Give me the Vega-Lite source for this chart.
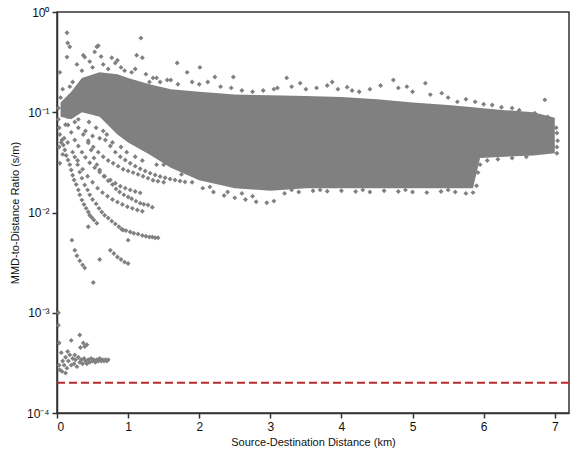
{
  "$schema": "https://vega.github.io/schema/vega-lite/v6.json",
  "width": 512,
  "height": 401,
  "autosize": "none",
  "padding": {"left": 57, "top": 12, "right": 9, "bottom": 39},
  "background": "white",
  "view": {"stroke": "#333333", "strokeWidth": 1.5},
  "config": {"axis": {"domainColor": "#333333", "domainWidth": 1.5, "tickColor": "#333333", "tickWidth": 1.5, "grid": false}},
  "data": {"values": [
      {"s": "band", "x": 0.05, "y": 0.125, "lo": 0.09},
      {"s": "band", "x": 0.2, "y": 0.16, "lo": 0.085},
      {"s": "band", "x": 0.35, "y": 0.22, "lo": 0.1},
      {"s": "band", "x": 0.6, "y": 0.25, "lo": 0.09},
      {"s": "band", "x": 0.85, "y": 0.24, "lo": 0.06},
      {"s": "band", "x": 1.0, "y": 0.22, "lo": 0.05},
      {"s": "band", "x": 1.3, "y": 0.19, "lo": 0.038},
      {"s": "band", "x": 1.6, "y": 0.17, "lo": 0.028},
      {"s": "band", "x": 2.0, "y": 0.16, "lo": 0.021},
      {"s": "band", "x": 2.5, "y": 0.15, "lo": 0.0175},
      {"s": "band", "x": 3.0, "y": 0.148, "lo": 0.0165},
      {"s": "band", "x": 3.5, "y": 0.145, "lo": 0.0175},
      {"s": "band", "x": 4.0, "y": 0.142, "lo": 0.0175},
      {"s": "band", "x": 4.5, "y": 0.135, "lo": 0.0175},
      {"s": "band", "x": 5.0, "y": 0.125, "lo": 0.0175},
      {"s": "band", "x": 5.5, "y": 0.118, "lo": 0.0175},
      {"s": "band", "x": 5.85, "y": 0.112, "lo": 0.0175},
      {"s": "band", "x": 5.95, "y": 0.11, "lo": 0.035},
      {"s": "band", "x": 6.3, "y": 0.105, "lo": 0.036},
      {"s": "band", "x": 6.7, "y": 0.1, "lo": 0.037},
      {"s": "band", "x": 7.0, "y": 0.088, "lo": 0.039},
      {"s":"p","x":0.14,"y":0.62},{"s":"p","x":0.15,"y":0.49},{"s":"p","x":0.18,"y":0.45},{"s":"p","x":0.14,"y":0.355},{"s":"p","x":0.56,"y":0.45},{"s":"p","x":0.53,"y":0.40},{"s":"p","x":0.39,"y":0.355},{"s":"p","x":0.35,"y":0.26},{"s":"p","x":0.37,"y":0.37},{"s":"p","x":0.58,"y":0.46},{"s":"p","x":0.46,"y":0.32},{"s":"p","x":0.77,"y":0.35},{"s":"p","x":0.82,"y":0.31},{"s":"p","x":1.12,"y":0.37},{"s":"p","x":1.18,"y":0.55},{"s":"p","x":1.2,"y":0.35},{"s":"p","x":1.05,"y":0.25},{"s":"p","x":1.69,"y":0.31},{"s":"p","x":1.83,"y":0.25},{"s":"p","x":2.01,"y":0.28},{"s":"p","x":2.22,"y":0.225},{"s":"p","x":2.48,"y":0.225},
      {"s":"p","x":0.28,"y":0.3},{"s":"p","x":0.5,"y":0.28},{"s":"p","x":0.65,"y":0.3},{"s":"p","x":0.72,"y":0.27},{"s":"p","x":0.9,"y":0.28},{"s":"p","x":0.95,"y":0.26},{"s":"p","x":1.1,"y":0.27},{"s":"p","x":1.25,"y":0.24},{"s":"p","x":1.35,"y":0.22},{"s":"p","x":1.45,"y":0.2},{"s":"p","x":1.55,"y":0.21},{"s":"p","x":0.62,"y":0.36},{"s":"p","x":0.85,"y":0.33},
      {"s":"p","x":1.3,"y":0.2},{"s":"p","x":1.4,"y":0.22},{"s":"p","x":1.6,"y":0.21},{"s":"p","x":1.7,"y":0.19},{"s":"p","x":1.9,"y":0.2},{"s":"p","x":2.0,"y":0.19},{"s":"p","x":2.12,"y":0.2},{"s":"p","x":2.3,"y":0.18},{"s":"p","x":2.45,"y":0.175},{"s":"p","x":2.6,"y":0.165},{"s":"p","x":2.75,"y":0.16},{"s":"p","x":2.9,"y":0.165},{"s":"p","x":3.05,"y":0.17},{"s":"p","x":3.1,"y":0.175},{"s":"p","x":3.23,"y":0.22},{"s":"p","x":3.3,"y":0.18},{"s":"p","x":3.42,"y":0.195},{"s":"p","x":3.5,"y":0.17},{"s":"p","x":3.65,"y":0.175},{"s":"p","x":3.8,"y":0.185},{"s":"p","x":3.87,"y":0.2},{"s":"p","x":3.95,"y":0.17},{"s":"p","x":4.08,"y":0.178},{"s":"p","x":4.15,"y":0.165},{"s":"p","x":4.25,"y":0.16},{"s":"p","x":4.4,"y":0.17},{"s":"p","x":4.55,"y":0.185},{"s":"p","x":4.73,"y":0.21},{"s":"p","x":4.8,"y":0.175},{"s":"p","x":4.92,"y":0.18},{"s":"p","x":5.0,"y":0.16},{"s":"p","x":5.18,"y":0.195},{"s":"p","x":5.25,"y":0.15},{"s":"p","x":5.41,"y":0.155},{"s":"p","x":5.5,"y":0.14},{"s":"p","x":5.63,"y":0.127},{"s":"p","x":5.75,"y":0.135},{"s":"p","x":5.88,"y":0.127},{"s":"p","x":6.0,"y":0.12},{"s":"p","x":6.12,"y":0.118},{"s":"p","x":6.25,"y":0.112},{"s":"p","x":6.4,"y":0.11},{"s":"p","x":6.5,"y":0.105},{"s":"p","x":6.58,"y":0.094},{"s":"p","x":6.72,"y":0.098},{"s":"p","x":6.86,"y":0.133},{"s":"p","x":6.9,"y":0.09},{"s":"p","x":6.96,"y":0.08},{"s":"p","x":7.02,"y":0.07},{"s":"p","x":7.03,"y":0.062},{"s":"p","x":7.04,"y":0.052},{"s":"p","x":7.03,"y":0.045},{"s":"p","x":7.03,"y":0.039},{"s":"p","x":6.89,"y":0.044},{"s":"p","x":6.8,"y":0.04},{"s":"p","x":6.6,"y":0.036},{"s":"p","x":6.4,"y":0.035},{"s":"p","x":6.2,"y":0.034},{"s":"p","x":6.05,"y":0.033},
      {"s":"p","x":1.5,"y":0.03},{"s":"p","x":1.75,"y":0.024},{"s":"p","x":1.9,"y":0.02},{"s":"p","x":2.05,"y":0.0175},{"s":"p","x":2.2,"y":0.016},{"s":"p","x":2.35,"y":0.0148},{"s":"p","x":2.5,"y":0.014},{"s":"p","x":2.65,"y":0.0135},{"s":"p","x":2.8,"y":0.0128},{"s":"p","x":2.95,"y":0.0125},{"s":"p","x":3.05,"y":0.013},{"s":"p","x":2.75,"y":0.0145},{"s":"p","x":2.6,"y":0.0155},{"s":"p","x":2.4,"y":0.016},{"s":"p","x":2.15,"y":0.018},{"s":"p","x":3.2,"y":0.0155},{"s":"p","x":3.4,"y":0.016},{"s":"p","x":3.6,"y":0.0165},{"s":"p","x":3.8,"y":0.0163},{"s":"p","x":4.0,"y":0.0165},{"s":"p","x":4.2,"y":0.0162},{"s":"p","x":4.4,"y":0.016},{"s":"p","x":4.6,"y":0.0165},{"s":"p","x":4.8,"y":0.0162},{"s":"p","x":5.0,"y":0.016},{"s":"p","x":5.2,"y":0.0158},{"s":"p","x":5.4,"y":0.0162},{"s":"p","x":5.6,"y":0.016},{"s":"p","x":5.75,"y":0.0155},{"s":"p","x":5.85,"y":0.0158},{"s":"p","x":3.3,"y":0.0168},{"s":"p","x":3.7,"y":0.0168},{"s":"p","x":4.3,"y":0.0168},{"s":"p","x":4.9,"y":0.0168},{"s":"p","x":5.5,"y":0.0168},{"s":"p","x":5.9,"y":0.0185},{"s":"p","x":5.92,"y":0.025},{"s":"p","x":5.95,"y":0.03},
      {"s":"p","x":0.02,"y":0.11},{"s":"p","x":0.02,"y":0.085},{"s":"p","x":0.03,"y":0.07},{"s":"p","x":0.04,"y":0.06},{"s":"p","x":0.03,"y":0.045},{"s":"p","x":0.05,"y":0.14},{"s":"p","x":0.08,"y":0.17},{"s":"p","x":0.04,"y":0.25},{"s":"p","x":0.04,"y":0.031},{"s":"p","x":0.08,"y":0.038},{"s":"p","x":0.1,"y":0.055},{"s":"p","x":0.12,"y":0.075},{"s":"p","x":0.18,"y":0.18},{"s":"p","x":0.22,"y":0.2},{"s":"p","x":0.25,"y":0.08},{"s":"p","x":0.06,"y":0.05},
      {"s":"p","x":0.07,"y":0.0529},{"s":"p","x":0.11,"y":0.042},{"s":"p","x":0.155,"y":0.0334},{"s":"p","x":0.2,"y":0.0265},{"s":"p","x":0.24,"y":0.0211},{"s":"p","x":0.3,"y":0.0168},{"s":"p","x":0.35,"y":0.0133},{"s":"p","x":0.41,"y":0.011},{"s":"p","x":0.46,"y":0.0094},{"s":"p","x":0.52,"y":0.0084},{"s":"p","x":0.56,"y":0.0078},{"s":"p","x":0.09,"y":0.047},{"s":"p","x":0.13,"y":0.037},{"s":"p","x":0.18,"y":0.03},{"s":"p","x":0.22,"y":0.0235},{"s":"p","x":0.27,"y":0.019},{"s":"p","x":0.32,"y":0.015},{"s":"p","x":0.38,"y":0.012},{"s":"p","x":0.44,"y":0.0101},{"s":"p","x":0.49,"y":0.0089},
      {"s":"p","x":0.25,"y":0.0358},{"s":"p","x":0.32,"y":0.0253},{"s":"p","x":0.39,"y":0.0188},{"s":"p","x":0.46,"y":0.015},{"s":"p","x":0.55,"y":0.0122},{"s":"p","x":0.63,"y":0.0101},{"s":"p","x":0.72,"y":0.0088},{"s":"p","x":0.82,"y":0.0077},{"s":"p","x":0.91,"y":0.0068},{"s":"p","x":1.03,"y":0.0064},{"s":"p","x":1.14,"y":0.0061},{"s":"p","x":1.25,"y":0.0058},{"s":"p","x":1.34,"y":0.0057},{"s":"p","x":1.42,"y":0.0056},{"s":"p","x":0.77,"y":0.0082},{"s":"p","x":0.87,"y":0.0072},{"s":"p","x":0.97,"y":0.0066},{"s":"p","x":1.08,"y":0.0062},{"s":"p","x":1.2,"y":0.0059},{"s":"p","x":1.3,"y":0.0057},{"s":"p","x":1.38,"y":0.0056},{"s":"p","x":0.59,"y":0.011},{"s":"p","x":0.67,"y":0.0094},{"s":"p","x":0.5,"y":0.0135},{"s":"p","x":0.43,"y":0.0168},{"s":"p","x":0.35,"y":0.022},{"s":"p","x":0.29,"y":0.03},
      {"s":"p","x":0.44,"y":0.0495},{"s":"p","x":0.52,"y":0.035},{"s":"p","x":0.6,"y":0.0265},{"s":"p","x":0.72,"y":0.0207},{"s":"p","x":0.83,"y":0.0172},{"s":"p","x":0.94,"y":0.015},{"s":"p","x":1.05,"y":0.0137},{"s":"p","x":1.17,"y":0.0124},{"s":"p","x":1.28,"y":0.0119},{"s":"p","x":1.34,"y":0.0113},{"s":"p","x":0.48,"y":0.042},{"s":"p","x":0.56,"y":0.03},{"s":"p","x":0.66,"y":0.023},{"s":"p","x":0.78,"y":0.019},{"s":"p","x":0.88,"y":0.016},{"s":"p","x":1.0,"y":0.0143},{"s":"p","x":1.11,"y":0.013},{"s":"p","x":1.22,"y":0.0121},
      {"s":"p","x":0.68,"y":0.0529},{"s":"p","x":0.82,"y":0.04},{"s":"p","x":0.96,"y":0.0334},{"s":"p","x":1.1,"y":0.029},{"s":"p","x":1.24,"y":0.0259},{"s":"p","x":1.38,"y":0.0237},{"s":"p","x":1.52,"y":0.0222},{"s":"p","x":1.66,"y":0.0211},{"s":"p","x":1.8,"y":0.0202},{"s":"p","x":0.75,"y":0.046},{"s":"p","x":0.89,"y":0.036},{"s":"p","x":1.03,"y":0.031},{"s":"p","x":1.17,"y":0.0273},{"s":"p","x":1.31,"y":0.0247},{"s":"p","x":1.45,"y":0.0229},{"s":"p","x":1.59,"y":0.0216},{"s":"p","x":1.73,"y":0.0206},
      {"s":"p","x":0.155,"y":0.0746},{"s":"p","x":0.25,"y":0.0529},{"s":"p","x":0.35,"y":0.04},{"s":"p","x":0.46,"y":0.0313},{"s":"p","x":0.6,"y":0.0253},{"s":"p","x":0.75,"y":0.0211},{"s":"p","x":0.89,"y":0.0183},{"s":"p","x":1.03,"y":0.0168},{"s":"p","x":1.17,"y":0.0157},{"s":"p","x":0.2,"y":0.063},{"s":"p","x":0.3,"y":0.046},{"s":"p","x":0.4,"y":0.0355},{"s":"p","x":0.53,"y":0.028},{"s":"p","x":0.67,"y":0.023},{"s":"p","x":0.82,"y":0.0196},{"s":"p","x":0.96,"y":0.0175},{"s":"p","x":1.1,"y":0.0162},
      {"s":"p","x":0.3,"y":0.07},{"s":"p","x":0.37,"y":0.06},{"s":"p","x":0.44,"y":0.052},{"s":"p","x":0.51,"y":0.045},{"s":"p","x":0.58,"y":0.04},{"s":"p","x":0.65,"y":0.036},{"s":"p","x":0.72,"y":0.033},{"s":"p","x":0.79,"y":0.031},{"s":"p","x":0.86,"y":0.029},{"s":"p","x":0.93,"y":0.027},{"s":"p","x":1.0,"y":0.026},{"s":"p","x":1.07,"y":0.025},{"s":"p","x":1.14,"y":0.024},{"s":"p","x":1.21,"y":0.023},{"s":"p","x":1.28,"y":0.022},{"s":"p","x":1.35,"y":0.021},{"s":"p","x":1.42,"y":0.0205},{"s":"p","x":1.5,"y":0.02},
      {"s":"p","x":0.15,"y":0.05},{"s":"p","x":0.22,"y":0.04},{"s":"p","x":0.29,"y":0.033},{"s":"p","x":0.36,"y":0.027},{"s":"p","x":0.43,"y":0.023},{"s":"p","x":0.5,"y":0.02},{"s":"p","x":0.57,"y":0.0175},{"s":"p","x":0.64,"y":0.0158},{"s":"p","x":0.71,"y":0.0145},{"s":"p","x":0.78,"y":0.0135},{"s":"p","x":0.85,"y":0.0127},{"s":"p","x":0.92,"y":0.012},{"s":"p","x":0.99,"y":0.0114},{"s":"p","x":1.06,"y":0.011},{"s":"p","x":1.13,"y":0.0106},{"s":"p","x":1.2,"y":0.0103},
      {"s":"p","x":0.15,"y":0.09},{"s":"p","x":0.3,"y":0.085},{"s":"p","x":0.45,"y":0.08},{"s":"p","x":0.55,"y":0.07},{"s":"p","x":0.65,"y":0.065},{"s":"p","x":0.4,"y":0.065},{"s":"p","x":0.5,"y":0.058},{"s":"p","x":0.6,"y":0.055},{"s":"p","x":0.7,"y":0.06},{"s":"p","x":0.78,"y":0.05},{"s":"p","x":0.9,"y":0.045},{"s":"p","x":0.98,"y":0.04},{"s":"p","x":1.1,"y":0.036},{"s":"p","x":1.2,"y":0.033},{"s":"p","x":1.4,"y":0.03},
      {"s":"p","x":0.21,"y":0.0053},{"s":"p","x":0.25,"y":0.0042},{"s":"p","x":0.28,"y":0.0037},{"s":"p","x":0.32,"y":0.0033},{"s":"p","x":0.36,"y":0.003},{"s":"p","x":0.39,"y":0.0028},{"s":"p","x":0.51,"y":0.002},{"s":"p","x":0.6,"y":0.0034},{"s":"p","x":0.93,"y":0.0067},{"s":"p","x":1.0,"y":0.0053},{"s":"p","x":0.44,"y":0.0072},{"s":"p","x":0.75,"y":0.0042},{"s":"p","x":0.8,"y":0.0039},{"s":"p","x":0.85,"y":0.0036},{"s":"p","x":0.9,"y":0.0034},{"s":"p","x":0.95,"y":0.0032},{"s":"p","x":1.0,"y":0.0031},{"s":"p","x":0.02,"y":0.001},{"s":"p","x":0.02,"y":0.00075},{"s":"p","x":0.03,"y":0.0005},
      {"s":"p","x":0.32,"y":0.0006},{"s":"p","x":0.37,"y":0.0005},{"s":"p","x":0.2,"y":0.00053},{"s":"p","x":0.42,"y":0.00048},{"s":"p","x":0.39,"y":0.00046},
      {"s":"p","x":0.06,"y":0.0004},{"s":"p","x":0.08,"y":0.00033},{"s":"p","x":0.1,"y":0.0003},{"s":"p","x":0.12,"y":0.00036},{"s":"p","x":0.14,"y":0.00028},{"s":"p","x":0.16,"y":0.00033},{"s":"p","x":0.18,"y":0.00038},{"s":"p","x":0.2,"y":0.0003},{"s":"p","x":0.22,"y":0.00035},{"s":"p","x":0.24,"y":0.00031},{"s":"p","x":0.26,"y":0.00034},{"s":"p","x":0.28,"y":0.00029},{"s":"p","x":0.3,"y":0.00036},{"s":"p","x":0.32,"y":0.00032},{"s":"p","x":0.34,"y":0.00034},{"s":"p","x":0.36,"y":0.00031},{"s":"p","x":0.38,"y":0.00035},{"s":"p","x":0.4,"y":0.00033},{"s":"p","x":0.42,"y":0.00031},{"s":"p","x":0.44,"y":0.00034},{"s":"p","x":0.46,"y":0.00032},{"s":"p","x":0.48,"y":0.00035},{"s":"p","x":0.5,"y":0.00033},{"s":"p","x":0.52,"y":0.00034},{"s":"p","x":0.54,"y":0.00032},{"s":"p","x":0.56,"y":0.00034},{"s":"p","x":0.58,"y":0.00033},{"s":"p","x":0.6,"y":0.00035},{"s":"p","x":0.62,"y":0.00033},{"s":"p","x":0.64,"y":0.00034},{"s":"p","x":0.66,"y":0.00033},{"s":"p","x":0.68,"y":0.00034},{"s":"p","x":0.7,"y":0.00033},{"s":"p","x":0.72,"y":0.00034},{"s":"p","x":0.04,"y":0.00027},{"s":"p","x":0.07,"y":0.00026},{"s":"p","x":0.12,"y":0.00025},{"s":"p","x":0.03,"y":0.0003},{"s":"p","x":0.15,"y":0.00041},{"s":"p","x":0.25,"y":0.00038},{"s":"p","x":0.33,"y":0.00045}
  ]},
  "encoding": {
    "x": {"field": "x", "type": "quantitative", "scale": {"domain": [0, 7.2], "nice": false, "zero": false},
      "axis": {"values": [0,1,2,3,4,5,6,7], "format": "d", "tickSize": 5, "labelPadding": 3, "labelFontSize": 12, "labelColor": "#111111", "title": "Source-Destination Distance (km)", "titleFontSize": 11, "titleFontWeight": "normal", "titleColor": "#111111", "titlePadding": 4}},
    "y": {"field": "y", "type": "quantitative", "scale": {"type": "log", "domain": [0.0001, 1], "nice": false},
      "axis": {"values": [0.0001, 0.001, 0.01, 0.1, 1],
        "labelExpr": "datum.value==1?'10⁰':datum.value==0.1?'10⁻¹':datum.value==0.01?'10⁻²':datum.value==0.001?'10⁻³':'10⁻⁴'",
        "tickSize": 5, "labelPadding": 3, "labelFontSize": 12, "labelColor": "#111111", "title": "MMD-to-Distance Ratio (s/m)", "titleFontSize": 11, "titleFontWeight": "normal", "titleColor": "#111111", "titlePadding": 6}}
  },
  "layer": [
    {
      "transform": [{"filter": "datum.s == 'band'"}],
      "mark": {"type": "area", "color": "#808080", "opacity": 1},
      "encoding": {"y2": {"field": "lo"}}
    },
    {
      "transform": [{"filter": "datum.s == 'p'"}],
      "mark": {"type": "point", "shape": "diamond", "filled": true, "size": 24, "color": "#808080", "opacity": 1}
    },
    {
      "data": {"values": [{"v": 0.0002}]},
      "mark": {"type": "rule", "color": "#b8282c", "strokeWidth": 2, "strokeDash": [8, 4]},
      "encoding": {"x": null, "y": {"field": "v", "type": "quantitative"}}
    }
  ]
}
